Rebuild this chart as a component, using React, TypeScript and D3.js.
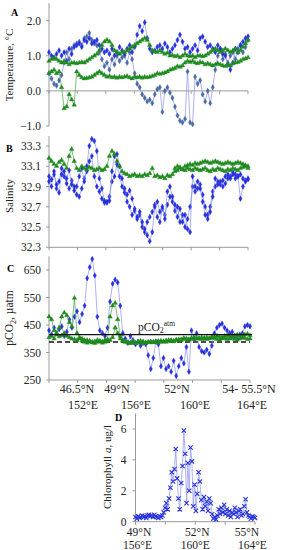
import React from "react";
import * as d3 from "d3";

// ---------- DATA ----------
// Panel A: Temperature, °C (sample index along transect)
const tempBlue = [1.1, 1.0, 0.95, 1.05, 1.15, 1.0, 1.1, 0.85, 1.2, 1.05,
  1.25, 1.3, 1.35, 1.25, 1.45, 1.4, 1.5, 1.35, 1.4, 1.45,
  1.3, 1.2, 1.1, 1.15, 1.05, 1.2, 1.0, 1.1, 1.25, 1.15,
  1.05, 1.2, 1.3, 1.1, 1.25, 1.6, 1.85, 1.7, 1.95, 1.5,
  1.2, 1.1, 1.15, 1.25, 1.3, 1.2, 1.35, 1.25, 1.1, 1.2,
  1.3, 1.45, 1.6, 1.4, 1.2, 1.25, 1.1, 1.2, 1.3, 1.15,
  1.5, 1.55, 1.4, 1.25, 1.3, 1.2, 1.1, 1.3, 1.2, 1.05,
  1.0, 0.75, 0.6, 0.8, 1.2, 1.1, 1.3, 1.4, 1.5, 1.55];
const tempSlate = [0.5, 0.35, 0.2, 0.15, 0.3, 0.45, 0.8, 1.1, 0.9, 1.2,
  1.3, 1.35, 1.4, 1.3, 1.5, 1.55, 1.65, 1.45, 1.35, 1.3,
  1.1, 0.9, 0.7, 0.8, 0.6, 0.9, 0.75, 1.0, 0.85, 0.95,
  1.0, 0.8, 1.1, 0.9, 0.5, 0.2, 0.1, -0.1, -0.2, -0.3,
  -0.25, -0.35, -0.1, 0.05, 0.1, -0.6, 0.0, 0.1, -0.05, -0.2,
  -0.45, -0.7, -0.85, -0.9, -0.8, 0.55, -0.9, -0.95, 0.4, 0.2,
  0.3, -0.1, -0.3, 0.0, -0.35, 0.1, 0.6, 1.0, 1.2, 0.9,
  1.05, 0.8, 1.0, 1.1, 0.9, 1.2, 1.3, 1.1, 1.25, 1.45];
const tempGreen1 = [0.85, 0.9, 0.95, 0.9, 0.85, 0.8, 0.85, 0.8, 0.75, 0.8,
  0.8, 0.78, 0.8, 0.82, 0.8, 0.85, 0.9, 0.95, 1.0, 1.05,
  1.15, 1.3, 1.4, 1.45, 1.4, 1.3, 1.15, 1.1, 1.05, 1.1,
  1.1, 1.15, 1.2, 1.25, 1.3, 1.35, 1.4, 1.45, 1.5, 1.45,
  1.3, 1.15, 1.12, 1.1, 1.15, 1.1, 1.05, 1.08, 1.0, 1.02,
  0.98, 1.0, 0.95, 1.0, 1.05, 1.0, 0.98, 1.0, 0.95, 1.0,
  1.0, 0.98, 1.0, 1.05, 1.1, 1.15, 1.2, 1.15, 1.1, 1.15,
  1.2, 1.15, 1.1, 1.15, 1.2, 1.1, 1.15, 1.25, 1.35, 1.45];
const tempGreen2 = [0.5, 0.55, 0.6, 0.5, 0.55, 0.1, -0.5, -0.45, -0.1, -0.25,
  -0.4, 0.55, 0.45, 0.38, 0.35, 0.36, 0.38, 0.4, 0.45, 0.5,
  0.55, 0.5, 0.45, 0.4, 0.42, 0.38, 0.4, 0.37, 0.4, 0.38,
  0.4, 0.42, 0.38, 0.35, 0.4, 0.38, 0.4, 0.37, 0.4, 0.38,
  0.4, 0.42, 0.45, 0.5, 0.48, 0.5, 0.52, 0.55, 0.6, 0.62,
  0.65, 0.7, 0.68, 0.72, 0.8, 0.85, 0.82, 0.85, 0.8, 0.78,
  0.82, 0.8, 0.75, 0.78, 0.75, 0.72, 0.75, 0.78, 0.75, 0.72,
  0.7, 0.75, 0.72, 0.78, 0.8, 0.82, 0.85, 0.9, 0.92, 0.95];
const tempTicks = [-1, 0, 1, 2];

// Panel B: Salinity
const salBlue = [33.0, 32.97, 33.02, 32.92, 32.84, 33.02, 33.05, 32.98, 33.06, 32.92,
  32.86, 32.9, 33.0, 33.08, 32.95, 33.1, 33.3, 33.37, 33.35, 33.25,
  32.98, 32.88, 32.76, 32.75, 32.76, 33.05, 33.2, 33.22, 33.1, 32.98,
  32.88, 32.82, 32.86, 32.78, 32.68, 32.6, 32.65, 32.55, 32.48, 32.42,
  32.36, 32.45, 32.7, 32.75, 32.65, 32.7, 32.58, 32.85, 32.9, 32.8,
  32.72, 32.6, 32.68, 32.55, 32.62, 32.48, 32.45, 33.0, 32.9, 32.95,
  32.88, 32.75, 32.62, 32.58, 32.65, 32.8, 32.98, 32.92, 32.95, 32.9,
  32.93, 32.98, 33.0, 33.02, 32.98, 33.0, 32.78, 32.9, 32.95, 32.97];
const salBlue2 = [32.95, 32.9, 33.05, 32.88, 32.95, 33.08, 33.0, 32.93, 32.88, 32.96,
  32.9, 32.82, 32.8, 32.88, 32.98, 33.05, 33.15, 33.2, 33.0, 32.9,
  32.85, 32.78, 32.74, 32.74, 32.8, 32.95, 33.0, 33.12, 33.0, 32.9,
  32.84, 32.75, 32.7, 32.62, 32.66, 32.58, 32.62, 32.5, 32.45, 32.55,
  32.6, 32.65, 32.72, 32.6, 32.55, 32.68, 32.62, 32.72, 32.8, 32.75,
  32.66, 32.7, 32.55, 32.62, 32.5, 32.58, 32.7, 32.9, 32.85, 32.88,
  32.92, 32.82, 32.7, 32.62, 32.7, 32.85, 32.9, 32.95, 32.92, 32.96,
  33.0, 33.02, 32.98, 33.04, 33.02, 33.0, 33.02, 32.98, 32.96, 32.98];
const salGreen1 = [33.18, 33.15, 33.12, 33.1, 33.14, 33.16, 33.12, 33.08, 33.2, 33.27,
  33.15, 33.08, 33.06, 33.1, 33.08, 33.07, 33.09, 33.08, 33.06, 33.07,
  33.08, 33.06, 33.07, 33.1, 33.2, 33.25, 33.22, 33.15, 33.1, 33.05,
  33.03, 33.02, 33.0, 33.01, 33.02, 33.0, 33.01, 33.0, 33.02, 33.01,
  33.03, 33.08, 33.0, 33.01, 32.99, 33.0, 32.98, 33.01, 33.0, 33.02,
  33.08, 33.1, 33.09, 33.07, 33.1, 33.11, 33.12, 33.11, 33.13, 33.12,
  33.13, 33.14, 33.15, 33.14, 33.13, 33.14, 33.15, 33.14, 33.13, 33.12,
  33.13, 33.14, 33.13, 33.12, 33.13, 33.14, 33.13, 33.12, 33.11, 33.1];
const salGreen2Start = 50;
const salGreen2 = [33.05, 33.06, 33.08, 33.07, 33.06, 33.08, 33.07, 33.06, 33.08, 33.07,
  33.06, 33.07, 33.08, 33.06, 33.05, 33.07, 33.06, 33.08, 33.07, 33.06,
  33.05, 33.07, 33.06, 33.08, 33.07, 33.06, 33.08, 33.09, 33.1, 33.08];
const salTicks = [32.3, 32.5, 32.7, 32.9, 33.1, 33.3];

// Panel C: pCO2, µatm
const pco2Blue = [430, 415, 440, 420, 435, 445, 410, 425, 470, 440,
  480, 500, 460, 490, 520, 620, 660, 690, 630, 480,
  430, 420, 410, 440, 535, 600, 615, 605, 520, 420,
  400, 385, 410, 395, 380, 390, 375, 385, 380, 340,
  290, 330, 390, 380, 300, 330, 290, 300, 280, 320,
  265, 300, 330, 310, 370, 280, 430, 400, 420, 370,
  355, 350, 360, 345, 375, 420, 440, 450, 455, 440,
  430, 420, 425, 410, 400, 415, 420, 445, 450, 445];
const pco2Green1 = [480, 470, 430, 420, 440, 480, 495, 485, 460, 445,
  548, 420, 405, 400, 395, 395, 392, 388, 390, 395,
  392, 390, 395, 398, 480, 520, 530, 470, 410, 395,
  390, 388, 385, 390, 385, 388, 392, 390, 385, 388,
  386, 388, 390, 392, 388, 390, 393, 395, 392, 390,
  395, 398, 395, 400, 398, 396, 400, 398, 402, 400,
  398, 400, 405, 402, 408, 405, 410, 408, 405, 410,
  412, 410, 408, 412, 415, 410, 412, 415, 418, 412];
const pco2Green2 = [405, 410, 400, 415, 408, 412, 420, 410, 405, 400,
  398, 395, 400, 392, 388, 385, 390, 386, 384, 388,
  390, 385, 388, 392, 395, 405, 440, 420, 400, 392,
  388, 385, 384, 386, 384, 388, 385, 384, 386, 388,
  390, 388, 386, 388, 392, 390, 388, 392, 395, 392,
  396, 394, 398, 402, 400, 398, 402, 405, 400, 402,
  405, 402, 398, 400, 404, 402, 398, 396, 400, 402,
  398, 400, 402, 398, 396, 400, 404, 402, 398, 400];
const pco2Atm = 415;
const pco2Dashed = 388;
const pco2Ticks = [250, 350, 450, 550, 650];
const latLabels = [
  { at: 11, text: "46.5°N" },
  { at: 26.7, text: "49°N" },
  { at: 50.3, text: "52°N" },
  { at: 78.6, text: "54- 55.5°N" },
];
const lonLabels = [
  { at: 13.4, text: "152°E" },
  { at: 34.2, text: "156°E" },
  { at: 57.4, text: "160°E" },
  { at: 79.8, text: "164°E" },
];

// Panel D: Chlorophyll a, ug/l
const chl = [0.3, 0.2, 0.35, 0.25, 0.3, 0.4, 0.3, 0.35, 0.25, 0.4,
  0.45, 0.35, 0.4, 0.3, 0.45, 0.35, 0.3, 0.25, 0.35, 0.3, 0.4,
  0.6, 0.9, 1.2, 0.8, 1.5,
  2.2, 3.2, 2.6, 3.4, 4.7, 2.8,
  1.5, 0.8, 2.5, 3.6,
  5.9, 4.4,
  1.2, 3.8, 2.0, 4.8, 3.9,
  1.0, 2.4, 0.7, 1.8, 3.2, 2.6,
  1.4, 0.8, 1.6, 1.0, 1.3, 0.7, 1.5,
  1.2, 0.5, 0.2, 0.3, 0.15, 0.4, 0.8, 0.5,
  0.9, 0.6, 1.1, 0.5, 0.8, 0.4, 0.7, 0.3, 0.6,
  0.5, 0.9, 0.6, 0.3, 0.7, 0.8, 0.4, 0.5, 1.0, 1.45, 0.6,
  0.4, 0.3, 0.2, 0.35, 0.3, 0.25];
const chlTicks = [0, 2, 4, 6];
const chlLatLabels = [
  { at: 2.6, text: "49°N" },
  { at: 46, text: "52°N" },
  { at: 83, text: "55°N" },
];
const chlLonLabels = [
  { at: 1.5, text: "156°E" },
  { at: 44.5, text: "160°E" },
  { at: 87, text: "164°E" },
];

// ---------- STYLE ----------
const FONT = "'Liberation Serif', 'Times New Roman', serif";
const AXIS = "#9a9a9a";
const BLUE = "#2630dc";
const BLUE_LINE = "#8a90ee";
const SLATE = "#4b6aa3";
const GREEN = "#1f8a1f";
const GREEN_LINE = "#46a046";

type SeriesProps = {
  data: (number | null)[];
  x: (v: number) => number;
  y: (v: number) => number;
  offset?: number;
  color: string;
  lineColor: string;
  symbol: d3.SymbolType;
  size: number;
  stroke?: boolean;
};

function Series({ data, x, y, offset = 0, color, lineColor, symbol, size, stroke }: SeriesProps) {
  const pts = data.map((v, i) => (v == null ? null : ([x(i + offset), y(v)] as [number, number])));
  const line = d3
    .line<[number, number] | null>()
    .defined((d) => d != null)
    .x((d) => d![0])
    .y((d) => d![1]);
  const sym = d3.symbol().type(symbol).size(size)() || "";
  return (
    <g>
      <path d={line(pts) || ""} fill="none" stroke={lineColor} strokeWidth={0.7} />
      {pts.map((p, i) =>
        p ? (
          <path
            key={i}
            d={sym}
            transform={`translate(${p[0]},${p[1]})`}
            fill={stroke ? "none" : color}
            stroke={color}
            strokeWidth={stroke ? 1.1 : 0.4}
          />
        ) : null
      )}
    </g>
  );
}

function YAxis({ scale, ticks, x, fmt, top, bottom, gap = 8 }: { scale: any; ticks: number[]; x: number; fmt: (v: number) => string; top: number; bottom: number; gap?: number }) {
  return (
    <g>
      <line x1={x} x2={x} y1={top} y2={bottom} stroke={AXIS} strokeWidth={1} />
      {ticks.map((t) => (
        <g key={t}>
          <line x1={x - 3} x2={x} y1={scale(t)} y2={scale(t)} stroke={AXIS} strokeWidth={1} />
          <text x={x - gap} y={scale(t)} dy="0.35em" textAnchor="end" fontSize={11.5} fontFamily={FONT} fill="#222">
            {fmt(t)}
          </text>
        </g>
      ))}
    </g>
  );
}

function XAxisLine({ y, x1, x2, ticks }: { y: number; x1: number; x2: number; ticks: number[] }) {
  return (
    <g>
      <line x1={x1} x2={x2} y1={y} y2={y} stroke={AXIS} strokeWidth={1} />
      {ticks.map((t, i) => (
        <line key={i} x1={t} x2={t} y1={y} y2={y + 3} stroke={AXIS} strokeWidth={1} />
      ))}
    </g>
  );
}

export default function App() {
  const n = 80;
  const xA = d3.scaleLinear().domain([0, n - 1]).range([49, 248]);
  const yA = d3.scaleLinear().domain([-1, 2.5]).range([126, 3.1]);
  const yB = d3.scaleLinear().domain([32.3, 33.4]).range([247.3, 135.9]);
  const xC = d3.scaleLinear().domain([0, n - 1]).range([49, 250]);
  const yC = d3.scaleLinear().domain([250, 700]).range([380, 256.25]);
  const xD = d3.scaleLinear().domain([0, chl.length - 1]).range([135.5, 255]);
  const yD = d3.scaleLinear().domain([0, 7]).range([521.7, 413.5]);

  const abTicks = d3.range(8).map((k) => xA((k * (n - 1)) / 7));
  const cTicks = d3.range(8).map((k) => xC((k * (n - 1)) / 7));
  const dTicks = d3.range(5).map((k) => xD((k * (chl.length - 1)) / 4));

  const diamond = d3.symbolDiamond;
  const tri = d3.symbolTriangle;
  const f1 = d3.format(".1f");
  const DS = 9;
  const TS = 9;

  return (
    <svg width={284} height={550} style={{ position: "absolute", left: 0, top: 0, background: "#fff" }} fontFamily={FONT}>
      <rect width={284} height={550} fill="#fff" />

      {/* ---------- Panel A ---------- */}
      <text x={11} y={16} fontSize={10} fontWeight="bold">A</text>
      <text transform={`translate(13,65) rotate(-90)`} textAnchor="middle" fontSize={11} fill="#222">Temperature, °C</text>
      <YAxis scale={yA} ticks={tempTicks} x={49} fmt={f1} top={3.1} bottom={126} />
      <XAxisLine y={yA(0)} x1={49} x2={248} ticks={abTicks} />
      <Series data={tempSlate} x={xA} y={yA} color={SLATE} lineColor={BLUE_LINE} symbol={diamond} size={DS} />
      <Series data={tempBlue} x={xA} y={yA} color={BLUE} lineColor={BLUE_LINE} symbol={diamond} size={DS} />
      <Series data={tempGreen2} x={xA} y={yA} color={GREEN} lineColor={GREEN_LINE} symbol={tri} size={TS} />
      <Series data={tempGreen1} x={xA} y={yA} color={GREEN} lineColor={GREEN_LINE} symbol={tri} size={TS} />

      {/* ---------- Panel B ---------- */}
      <text x={6} y={152} fontSize={10} fontWeight="bold">B</text>
      <text transform={`translate(13,196) rotate(-90)`} textAnchor="middle" fontSize={11} fill="#222">Salinity</text>
      <YAxis scale={yB} ticks={salTicks} x={49} fmt={f1} top={135.9} bottom={247.3} />
      <XAxisLine y={247.3} x1={49} x2={248} ticks={abTicks} />
      <Series data={salBlue2} x={xA} y={yB} color={BLUE} lineColor={BLUE_LINE} symbol={diamond} size={DS} />
      <Series data={salBlue} x={xA} y={yB} color={BLUE} lineColor={BLUE_LINE} symbol={diamond} size={DS} />
      <Series data={salGreen2} offset={salGreen2Start} x={xA} y={yB} color={GREEN} lineColor={GREEN_LINE} symbol={tri} size={TS} />
      <Series data={salGreen1} x={xA} y={yB} color={GREEN} lineColor={GREEN_LINE} symbol={tri} size={TS} />

      {/* ---------- Panel C ---------- */}
      <text x={7} y={272} fontSize={10} fontWeight="bold">C</text>
      <text transform={`translate(13,318) rotate(-90)`} textAnchor="middle" fontSize={11.5} fill="#222">
        pCO<tspan fontSize={8} dy={3}>2</tspan>
        <tspan dy={-3}>, µatm</tspan>
      </text>
      <YAxis scale={yC} ticks={pco2Ticks} x={49} fmt={(v) => String(v)} top={256.25} bottom={380} />
      <XAxisLine y={380} x1={49} x2={250} ticks={cTicks} />
      <line x1={49} x2={250} y1={yC(pco2Dashed)} y2={yC(pco2Dashed)} stroke="#111" strokeWidth={1.4} strokeDasharray="5,3" />
      <Series data={pco2Blue} x={xC} y={yC} color={BLUE} lineColor={BLUE_LINE} symbol={diamond} size={DS} />
      <Series data={pco2Green2} x={xC} y={yC} color={GREEN} lineColor={GREEN_LINE} symbol={tri} size={TS} />
      <Series data={pco2Green1} x={xC} y={yC} color={GREEN} lineColor={GREEN_LINE} symbol={tri} size={TS} />
      <line x1={49} x2={252} y1={yC(pco2Atm)} y2={yC(pco2Atm)} stroke="#111" strokeWidth={1.4} />
      <text x={138} y={yC(pco2Atm) - 4} fontSize={11.5} fill="#222">
        pCO<tspan fontSize={8} dy={2}>2</tspan>
        <tspan fontSize={7.5} dy={-7}>atm</tspan>
      </text>
      {latLabels.map((l) => (
        <text key={l.text} x={xC(l.at)} y={393} textAnchor="middle" fontSize={12} fill="#222">{l.text}</text>
      ))}
      {lonLabels.map((l) => (
        <text key={l.text} x={xC(l.at)} y={409} textAnchor="middle" fontSize={12} fill="#222">{l.text}</text>
      ))}

      {/* ---------- Panel D ---------- */}
      <text x={115} y={421} fontSize={10} fontWeight="bold">D</text>
      <text transform={`translate(111,467) rotate(-90)`} textAnchor="middle" fontSize={11} fill="#222">
        Chlorophyll <tspan fontStyle="italic">a</tspan>, ug/l
      </text>
      <YAxis scale={yD} ticks={chlTicks} x={135.5} fmt={(v) => String(v)} top={413.5} bottom={521.7} gap={9} />
      <XAxisLine y={521.7} x1={135.5} x2={255} ticks={dTicks} />
      <Series data={chl} x={xD} y={yD} color={BLUE} lineColor={BLUE_LINE} symbol={d3.symbolX} size={14} stroke />
      {chlLatLabels.map((l) => (
        <text key={l.text} x={xD(l.at)} y={536} textAnchor="middle" fontSize={11.5} fill="#222">{l.text}</text>
      ))}
      {chlLonLabels.map((l) => (
        <text key={l.text} x={xD(l.at)} y={548.5} textAnchor="middle" fontSize={11.5} fill="#222">{l.text}</text>
      ))}
    </svg>
  );
}
